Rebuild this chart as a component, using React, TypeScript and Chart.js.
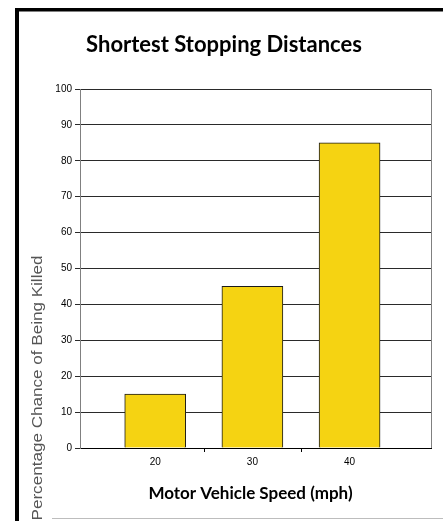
import React, { useEffect, useRef } from "react";
import { Chart, registerables } from "chart.js";

Chart.register(...registerables);

const speeds = [20, 30, 40];
const killedPct = [15, 45, 85];
const xTickValues = [20, 30, 40];
const xDividerValues = [25, 35];
const xMin = 12.26;
const xMax = 48.38;
const yMin = 0;
const yMax = 100;
const yStep = 10;
const titleText = "Shortest Stopping Distances";
const xTitleText = "Motor Vehicle Speed (mph)";
const yTitleText = "Percentage Chance of Being Killed";

const W = 443;
const H = 521;

export default function App() {
  const ref = useRef<HTMLCanvasElement>(null);

  useEffect(() => {
    if (!ref.current) return;

    const decor = {
      id: "decor",
      beforeDraw(chart: any) {
        const ctx = chart.ctx;
        ctx.save();
        ctx.fillStyle = "#ffffff";
        ctx.fillRect(0, 0, W, H);
        // frame
        ctx.fillStyle = "#000000";
        ctx.fillRect(15, 8, 4, H - 8);
        ctx.fillRect(15, 8, W - 15, 3.5);
        ctx.fillStyle = "#bdbdbd";
        ctx.fillRect(52, 518, W - 52, 1);
        ctx.restore();
      },
      afterDraw(chart: any) {
        const ctx = chart.ctx;
        const area = chart.chartArea;
        const xs = chart.scales.x;
        ctx.save();
        // right border of plot
        ctx.strokeStyle = "#808080";
        ctx.lineWidth = 1;
        ctx.beginPath();
        ctx.moveTo(Math.round(area.right) + 0.5, area.top);
        ctx.lineTo(Math.round(area.right) + 0.5, area.bottom);
        ctx.stroke();
        // divider ticks on x axis
        ctx.strokeStyle = "#000000";
        for (const v of xDividerValues) {
          const px = Math.round(xs.getPixelForValue(v)) + 0.5;
          ctx.beginPath();
          ctx.moveTo(px, area.bottom);
          ctx.lineTo(px, area.bottom + 4);
          ctx.stroke();
        }
        // title
        ctx.fillStyle = "#000000";
        ctx.textAlign = "center";
        ctx.textBaseline = "alphabetic";
        ctx.font = "bold 22px Lato";
        ctx.fillText(titleText, 224, 52);
        // x title
        ctx.font = "bold 17px Lato";
        ctx.fillText(xTitleText, 250.5, 499);
        // y title
        ctx.translate(38, 388);
        ctx.rotate(-Math.PI / 2);
        ctx.scale(1.22, 1);
        ctx.fillStyle = "#555555";
        ctx.font = "14px 'Liberation Sans', Arial, sans-serif";
        ctx.textBaseline = "middle";
        ctx.fillText(yTitleText, 0, 0);
        ctx.restore();
      },
    };

    const chart = new Chart(ref.current, {
      type: "bar",
      data: {
        datasets: [
          {
            data: speeds.map((s, i) => ({ x: s, y: killedPct[i] })),
            backgroundColor: "#F5D312",
            borderColor: "#1a1a1a",
            borderWidth: 1,
            barThickness: 61,
          },
        ],
      },
      options: {
        responsive: false,
        devicePixelRatio: 1,
        animation: false,
        layout: { padding: { left: 40, right: 12, top: 89, bottom: 0 } },
        plugins: {
          legend: { display: false },
          tooltip: { enabled: false },
          title: { display: false },
        },
        scales: {
          x: {
            type: "linear",
            offset: false,
            min: xMin,
            max: xMax,
            afterBuildTicks: (s: any) => {
              s.ticks = xTickValues.map((v) => ({ value: v }));
            },
            afterFit: (s: any) => {
              s.height = 73;
            },
            ticks: {
              color: "#000000",
              font: { family: "'Liberation Sans', Arial, sans-serif", size: 10 },
              padding: 8,
              maxRotation: 0,
            },
            grid: { display: false, drawTicks: false, offset: false },
            border: { display: true, color: "#000000", width: 1 },
          },
          y: {
            min: yMin,
            max: yMax,
            afterFit: (s: any) => {
              s.width = 40;
            },
            ticks: {
              stepSize: yStep,
              color: "#000000",
              font: { family: "'Liberation Sans', Arial, sans-serif", size: 10 },
              padding: 3,
            },
            grid: { color: "#2a2a2a", lineWidth: 1, tickLength: 5, drawTicks: true },
            border: { display: true, color: "#808080", width: 1 },
          },
        },
      },
      plugins: [decor],
    });

    return () => chart.destroy();
  }, []);

  return (
    <div style={{ position: "fixed", left: 0, top: 0, width: W, height: H, background: "#fff" }}>
      <canvas ref={ref} width={W} height={H} style={{ display: "block", width: W, height: H }} />
    </div>
  );
}
